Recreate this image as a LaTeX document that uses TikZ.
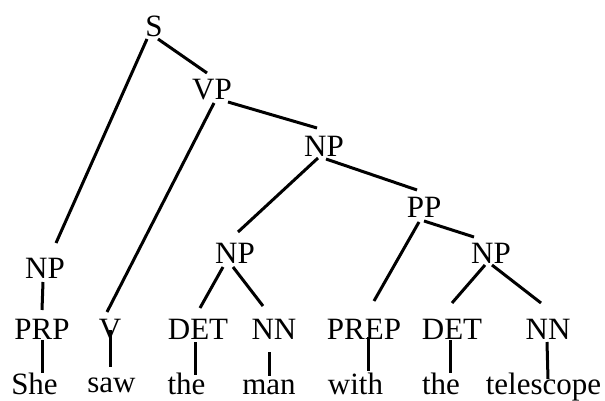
\documentclass[tikz,border=0pt]{standalone}
\usepackage{fontspec}
\setmainfont{Liberation Serif}
\begin{document}
\begin{tikzpicture}[x=1pt,y=-1pt,
  lbl/.style={anchor=base,inner sep=0pt,outer sep=0pt,font=\fontsize{31}{36}\selectfont},
  word/.style={lbl,text depth=0pt},
  edge/.style={line width=3pt,black}]
\useasboundingbox (0,0) rectangle (605,401);
% nonterminals
\node[lbl] (S) at (154,37) {S};
\node[lbl] (VP) at (212,100) {VP};
\node[lbl] (NPm) at (324,157) {NP};
\node[lbl] (PP) at (424,217) {PP};
\node[lbl] (NPr) at (491,263) {NP};
\node[lbl] (NPl) at (45,278) {NP};
\node[lbl] (NPlow) at (235,263) {NP};
% preterminals
\node[lbl] (PRP) at (42,339) {PRP};
\node[lbl] (V) at (110,339) {V};
\node[lbl] (DET) at (198,339) {DET};
\node[lbl] (NN) at (274,339) {NN};
\node[lbl] (PREP) at (364,339) {PREP};
\node[lbl] (DETr) at (452,339) {DET};
\node[lbl] (NNr) at (548,339) {NN};
% words
\node[word] (She) at (34.5,394) {She};
\node[word] (saw) at (111.5,392) {saw};
\node[word] (the) at (186.5,394) {the};
\node[word] (man) at (269,394) {man};
\node[word] (with) at (355.5,394) {with};
\node[word] (the2) at (441,394) {the};
\node[word] (tel) at (543.5,394) {telescope};
% edges
\draw[edge] ([shift={(-7,2)}]S.base) -- ([shift={(11,-35)}]NPl.base);
\draw[edge] ([shift={(4,2)}]S.base) -- ([shift={(-5,-27)}]VP.base);
\draw[edge] ([shift={(2,3)}]VP.base) -- ([shift={(-3,-27)}]V.base);
\draw[edge] ([shift={(16,2)}]VP.base) -- ([shift={(-7,-29)}]NPm.base);
\draw[edge] ([shift={(-6,1)}]NPm.base) -- ([shift={(3,-31)}]NPlow.base);
\draw[edge] ([shift={(2,2)}]NPm.base) -- ([shift={(-7,-27)}]PP.base);
\draw[edge] ([shift={(-5,5)}]PP.base) -- ([shift={(10,-38)}]PREP.base);
\draw[edge] ([shift={(0,4)}]PP.base) -- ([shift={(-17,-26)}]NPr.base);
\draw[edge] ([shift={(-6,2)}]NPr.base) -- ([shift={(0,-36)}]DETr.base);
\draw[edge] ([shift={(1,2)}]NPr.base) -- ([shift={(-7,-36)}]NNr.base);
\draw[edge] ([shift={(-12,4)}]NPlow.base) -- ([shift={(2,-31)}]DET.base);
\draw[edge] ([shift={(-2,4)}]NPlow.base) -- ([shift={(-11,-33)}]NN.base);
\draw[edge] ([shift={(-2,4)}]NPl.base) -- ([shift={(0,-29)}]PRP.base);
\draw[edge] ([shift={(0,1)}]PRP.base) -- ([shift={(7.5,-21)}]She.base);
\draw[edge] ([shift={(0,-9)}]V.base) -- ([shift={(-1.5,-25)}]saw.base);
\draw[edge] ([shift={(-3,3)}]DET.base) -- ([shift={(8.5,-19)}]the.base);
\draw[edge] ([shift={(-5,13)}]NN.base) -- ([shift={(0,-18)}]man.base);
\draw[edge] ([shift={(4,-2)}]PREP.base) -- ([shift={(12.5,-23)}]with.base);
\draw[edge] ([shift={(-2,1)}]DETr.base) -- ([shift={(9,-21)}]the2.base);
\draw[edge] ([shift={(-1,3)}]NNr.base) -- ([shift={(4.5,-15)}]tel.base);
\end{tikzpicture}
\end{document}
